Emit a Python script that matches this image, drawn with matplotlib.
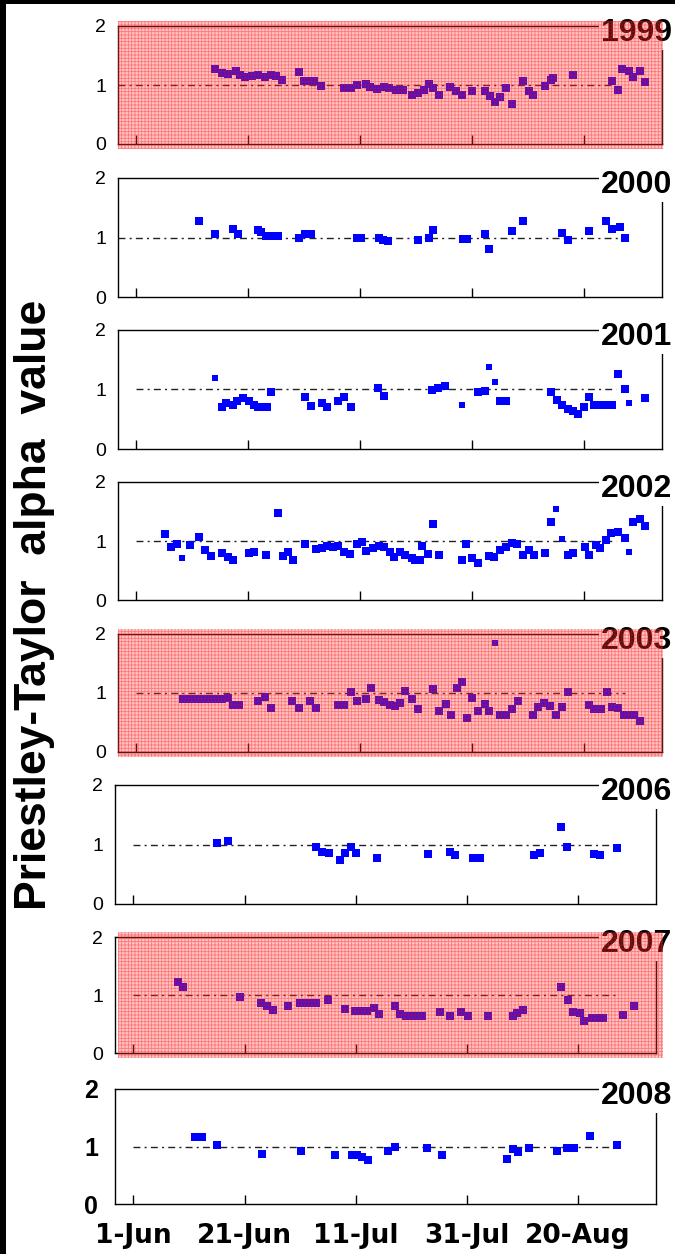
import numpy as np
import matplotlib.pyplot as plt
from matplotlib.patches import Rectangle

plt.rcParams['font.family'] = ['Liberation Sans', 'DejaVu Sans']
plt.rcParams['hatch.linewidth'] = 0.6

W, H = 675, 1254

# days counted from 1 June
tick_days = [0, 20, 40, 60, 80]
tick_labels = ['1-Jun', '21-Jun', '11-Jul', '31-Jul', '20-Aug']

years = ['1999', '2000', '2001', '2002', '2003', '2006', '2007', '2008']
shaded = ['1999', '2003', '2007']

days_1999 = [14.1, 15.3, 16.3, 17.8, 18.6, 19.5, 20.7, 21.8, 23.0, 24.0, 24.9, 26.0, 29.0, 29.9,
             30.9, 31.8, 33.0, 37.2, 38.4, 39.5, 41.1, 41.8, 43.0, 44.2, 45.2, 46.4, 47.6, 49.2,
             50.3, 51.5, 52.3, 53.0, 54.2, 56.1, 57.1, 58.2, 60.0, 62.3, 63.3, 64.2, 65.1, 66.1,
             67.1, 69.1, 70.2, 71.0, 73.1, 74.1, 74.5, 78.1, 85.0, 86.2, 86.9, 88.1, 88.9, 90.0, 91.0]
vals_1999 = [1.27, 1.20, 1.19, 1.23, 1.17, 1.13, 1.16, 1.17, 1.14, 1.17, 1.16, 1.09, 1.22, 1.07,
             1.06, 1.06, 0.99, 0.95, 0.95, 1.00, 1.02, 0.97, 0.93, 0.96, 0.95, 0.92, 0.91, 0.83,
             0.86, 0.92, 1.01, 0.95, 0.83, 0.96, 0.90, 0.83, 0.89, 0.89, 0.82, 0.72, 0.79, 0.95,
             0.68, 1.06, 0.89, 0.83, 0.99, 1.09, 1.12, 1.17, 1.06, 0.92, 1.27, 1.23, 1.13, 1.23, 1.05]

days_2000 = [11.2, 14.1, 17.2, 18.1, 21.7, 22.2, 23.2, 24.1, 25.3, 29.1, 30.2, 31.2, 39.4, 40.2,
             43.3, 44.1, 45.0, 50.3, 52.3, 53.0, 58.4, 59.2, 62.3, 63.1, 67.1, 69.1, 76.2, 77.2,
             81.0, 83.9, 85.0, 86.4, 87.3]
vals_2000 = [1.27, 1.06, 1.14, 1.06, 1.12, 1.10, 1.03, 1.03, 1.03, 0.99, 1.06, 1.06, 1.00, 1.00,
             1.00, 0.96, 0.94, 0.95, 1.00, 1.12, 0.97, 0.97, 1.06, 0.80, 1.11, 1.27, 1.07, 0.95,
             1.11, 1.27, 1.14, 1.18, 1.00]

days_2001 = [15.3, 16.0, 17.2, 18.0, 19.1, 20.1, 21.0, 21.8, 22.7, 23.4, 24.1, 30.2, 31.2, 33.2,
             34.0, 36.1, 37.2, 38.4, 43.2, 44.3, 52.9, 54.0, 55.2, 61.1, 62.3, 65.0, 66.1, 74.2,
             75.2, 76.2, 77.2, 78.1, 79.0, 80.0, 81.0, 81.9, 82.9, 84.1, 85.0, 86.2, 87.3, 91.0]
vals_2001 = [0.70, 0.77, 0.74, 0.80, 0.85, 0.80, 0.74, 0.70, 0.70, 0.70, 0.96, 0.87, 0.73, 0.77,
             0.70, 0.81, 0.87, 0.70, 1.02, 0.89, 0.99, 1.02, 1.06, 0.95, 0.98, 0.80, 0.80, 0.95,
             0.82, 0.74, 0.68, 0.64, 0.59, 0.70, 0.87, 0.74, 0.74, 0.74, 0.74, 1.26, 1.01, 0.85]
small_days_2001 = [14.1, 58.2, 63.1, 64.2, 88.1]
small_vals_2001 = [1.19, 0.74, 1.38, 1.13, 0.78]

days_2002 = [5.1, 6.2, 7.3, 9.5, 11.2, 12.2, 13.3, 15.3, 16.3, 17.2, 20.1, 21.0, 23.1, 25.3,
             26.2, 27.1, 28.0, 30.2, 32.2, 33.2, 34.1, 35.1, 36.1, 37.2, 38.2, 39.4, 40.3, 41.1,
             42.3, 43.3, 44.3, 45.3, 46.1, 47.1, 48.0, 49.2, 49.9, 50.7, 51.1, 52.1, 53.0, 54.2,
             58.2, 59.0, 60.1, 61.1, 63.1, 64.0, 65.0, 66.1, 67.1, 68.1, 69.1, 70.2, 71.1, 73.1,
             74.2, 77.2, 78.1, 80.2, 81.0, 82.2, 82.9, 83.9, 84.9, 86.2, 87.3, 88.9, 90.0, 91.0]
vals_2002 = [1.12, 0.90, 0.95, 0.93, 1.06, 0.85, 0.74, 0.79, 0.73, 0.68, 0.80, 0.82, 0.76, 1.47,
             0.74, 0.81, 0.68, 0.95, 0.87, 0.88, 0.91, 0.89, 0.91, 0.82, 0.78, 0.95, 0.99, 0.83,
             0.88, 0.92, 0.90, 0.82, 0.73, 0.82, 0.76, 0.71, 0.67, 0.68, 0.92, 0.78, 1.29, 0.76,
             0.68, 0.95, 0.71, 0.63, 0.74, 0.73, 0.85, 0.90, 0.96, 0.95, 0.76, 0.85, 0.76, 0.79,
             1.32, 0.76, 0.80, 0.90, 0.76, 0.93, 0.88, 1.02, 1.13, 1.16, 1.05, 1.33, 1.37, 1.26]
small_days_2002 = [8.2, 75.0, 76.2, 88.1]
small_vals_2002 = [0.72, 1.54, 1.03, 0.82]

days_2003 = [8.3, 9.5, 10.6, 11.8, 12.9, 14.1, 15.3, 16.3, 17.2, 18.3, 21.8, 23.0, 24.1, 27.8,
             29.1, 31.0, 32.1, 36.1, 37.2, 38.4, 39.4, 41.1, 42.0, 43.4, 44.3, 45.3, 46.3, 47.2,
             48.0, 49.2, 50.3, 53.0, 54.2, 55.3, 56.3, 57.3, 58.2, 59.1, 60.1, 61.1, 62.3, 63.1,
             65.0, 66.1, 67.1, 68.3, 71.0, 71.9, 72.9, 73.9, 75.0, 76.2, 77.2, 81.0, 81.9, 83.1,
             84.1, 85.0, 86.2, 87.2, 88.1, 89.0, 90.0]
vals_2003 = [0.90, 0.90, 0.90, 0.90, 0.90, 0.90, 0.90, 0.92, 0.80, 0.80, 0.86, 0.93, 0.74, 0.87,
             0.74, 0.87, 0.74, 0.80, 0.80, 1.01, 0.86, 0.90, 1.08, 0.88, 0.84, 0.80, 0.78, 0.83,
             1.03, 0.90, 0.73, 1.06, 0.69, 0.81, 0.62, 1.08, 1.18, 0.57, 0.91, 0.69, 0.82, 0.69,
             0.63, 0.63, 0.73, 0.87, 0.62, 0.76, 0.83, 0.78, 0.63, 0.76, 1.01, 0.80, 0.73, 0.73,
             1.01, 0.77, 0.74, 0.63, 0.63, 0.63, 0.52]
small_days_2003 = [64.2]
small_vals_2003 = [1.84]

days_2006 = [15.0, 17.1, 32.9, 34.0, 35.2, 37.2, 38.1, 39.1, 40.0, 43.9, 53.0, 57.0, 57.9, 61.1,
             62.3, 72.1, 73.2, 76.9, 78.0, 82.9, 84.0, 87.0]
vals_2006 = [1.02, 1.06, 0.95, 0.88, 0.86, 0.74, 0.86, 0.95, 0.86, 0.78, 0.84, 0.88, 0.82, 0.78,
             0.77, 0.82, 0.85, 1.30, 0.96, 0.84, 0.82, 0.94]

days_2007 = [8.0, 9.0, 19.2, 22.9, 24.0, 25.2, 27.9, 30.0, 30.9, 31.9, 32.9, 35.0, 38.1, 39.9,
             41.0, 42.0, 43.2, 44.1, 47.0, 47.9, 49.1, 50.1, 51.0, 52.0, 55.1, 56.9, 59.0, 60.1,
             63.8, 68.2, 69.0, 70.0, 76.9, 78.1, 79.0, 80.3, 81.1, 82.5, 83.6, 84.4, 88.0, 90.0]
vals_2007 = [1.23, 1.13, 0.97, 0.87, 0.81, 0.75, 0.81, 0.87, 0.87, 0.87, 0.87, 0.92, 0.76, 0.73,
             0.73, 0.73, 0.78, 0.68, 0.81, 0.68, 0.64, 0.64, 0.64, 0.64, 0.70, 0.64, 0.71, 0.64,
             0.64, 0.64, 0.69, 0.74, 1.13, 0.91, 0.71, 0.69, 0.55, 0.60, 0.60, 0.60, 0.65, 0.81]

days_2008 = [11.1, 12.3, 15.0, 23.1, 30.2, 36.2, 39.4, 40.2, 41.1, 42.2, 45.8, 47.0, 52.9, 55.5,
             67.2, 68.2, 69.1, 71.1, 76.2, 78.0, 79.2, 82.1, 87.0]
vals_2008 = [1.16, 1.16, 1.02, 0.87, 0.92, 0.85, 0.86, 0.86, 0.81, 0.77, 0.92, 1.00, 0.97, 0.85,
             0.79, 0.96, 0.91, 0.97, 0.92, 0.97, 0.97, 1.19, 1.03]

ref_level = 1.0
ref_start = [-3.3, -3.3, 0, 0, 0, 0, 0, 0]
ref_end = [85, 87.3, 85.8, 85.8, 87.3, 86.3, 87, 87]

data = {
    '1999': (days_1999, vals_1999, [], []),
    '2000': (days_2000, vals_2000, [], []),
    '2001': (days_2001, vals_2001, small_days_2001, small_vals_2001),
    '2002': (days_2002, vals_2002, small_days_2002, small_vals_2002),
    '2003': (days_2003, vals_2003, small_days_2003, small_vals_2003),
    '2006': (days_2006, vals_2006, [], []),
    '2007': (days_2007, vals_2007, [], []),
    '2008': (days_2008, vals_2008, [], []),
}

# panel boxes in pixels
ax_left = [118, 118, 118, 118, 118, 115, 115, 115]
ax_right = [662, 662, 662, 662, 662, 656, 656, 656]
ax_top = [26, 178, 330, 482, 634, 785, 937, 1089]
ax_bot = [144, 297, 449, 600, 752, 904, 1053, 1204]

fig = plt.figure(figsize=(W / 100, H / 100), dpi=100)

for i, yr in enumerate(years):
    l, r, t, b = ax_left[i], ax_right[i], ax_top[i], ax_bot[i]
    ax = fig.add_axes([l / W, 1 - b / H, (r - l) / W, (b - t) / H])
    d, v, sd, sv = data[yr]
    ax.plot([ref_start[i], ref_end[i]], [ref_level, ref_level], color='#222222',
            lw=1.0, linestyle=(0, (5, 3, 1.5, 3)), zorder=1)
    ax.plot(d, v, 's', color='#0000ff', ms=6.4, mew=0, zorder=3, clip_on=False)
    if sd:
        ax.plot(sd, sv, 's', color='#0000ff', ms=4.5, mew=0, zorder=3, clip_on=False)
    ax.set_xlim(-3.3, 94)
    ax.set_ylim(0, 2)
    ax.set_xticks(tick_days)
    ax.set_yticks([0, 1, 2])
    for s in ax.spines.values():
        s.set_linewidth(1.0)
        s.set_color('black')
    ax.tick_params(axis='x', direction='in', length=6.5, width=1, top=False)
    ax.tick_params(axis='y', length=0)
    last = (i == len(years) - 1)
    if last:
        ax.set_xticklabels(tick_labels, fontsize=19, fontweight='bold', family='DejaVu Sans')
        ax.set_yticklabels(['0', '1', '2'], fontsize=18, fontweight='bold')
        ax.tick_params(axis='x', pad=14)
        ax.tick_params(axis='y', pad=12)
    else:
        ax.set_xticklabels([])
        ax.tick_params(axis='x', labelbottom=False)
        ax.set_yticklabels(['0', '1', '2'], fontsize=14)
        ax.tick_params(axis='y', pad=8.5)

    fig.text(601 / W, 1 - (t + 15) / H, yr, fontsize=23, fontweight='bold',
             ha='left', va='baseline', zorder=5,
             bbox=dict(facecolor='white', edgecolor='none', pad=1.5))

    if yr in shaded:
        rect = Rectangle((118 / W, 1 - (b + 5) / H), (663 - 118) / W, (b - t + 10) / H,
                         transform=fig.transFigure, facecolor=(1, 0.25, 0.25, 0.3),
                         edgecolor=(1, 0, 0, 0.4), hatch='+++++', lw=0, zorder=10)
        fig.add_artist(rect)

fig.text(35 / W, 1 - 605 / H, 'Priestley-Taylor  alpha  value', rotation=90,
         fontsize=32, fontweight='bold', ha='center', va='center')

# black frame at the left and top edges
fig.add_artist(Rectangle((0, 0), 6 / W, 1, transform=fig.transFigure,
                         facecolor='black', edgecolor='none', zorder=20))
fig.add_artist(Rectangle((0, 1 - 4 / H), 1, 4 / H, transform=fig.transFigure,
                         facecolor='black', edgecolor='none', zorder=20))

fig.savefig('out.png', dpi=100)
